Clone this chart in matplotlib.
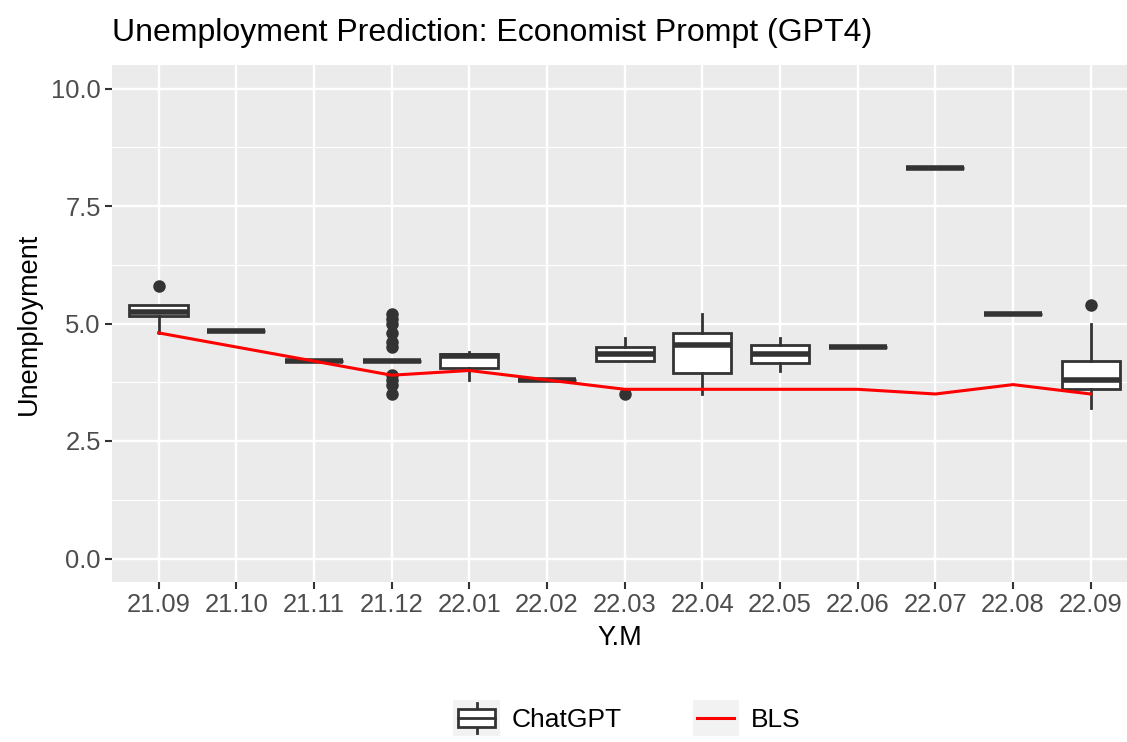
import numpy as np
import matplotlib
matplotlib.use("Agg")
import matplotlib.pyplot as plt
from matplotlib.legend_handler import HandlerBase
from matplotlib.patches import Rectangle
from matplotlib.lines import Line2D

plt.rcParams['font.family'] = ['Liberation Sans', 'DejaVu Sans']

# --------------------------
# data
# --------------------------
months = ['21.09', '21.10', '21.11', '21.12', '22.01', '22.02', '22.03',
          '22.04', '22.05', '22.06', '22.07', '22.08', '22.09']
q1 = [5.15, 4.85, 4.2, 4.2, 4.05, 3.8, 4.2, 3.95, 4.17, 4.5, 8.3, 5.2, 3.6]
med = [5.25, 4.85, 4.2, 4.2, 4.3, 3.8, 4.35, 4.55, 4.35, 4.5, 8.3, 5.2, 3.8]
q3 = [5.4, 4.85, 4.2, 4.2, 4.35, 3.8, 4.5, 4.8, 4.55, 4.5, 8.3, 5.2, 4.2]
whis_lo = [4.8, 4.85, 4.2, 4.2, 3.8, 3.8, 4.2, 3.5, 4.0, 4.5, 8.3, 5.2, 3.2]
whis_hi = [5.4, 4.85, 4.2, 4.2, 4.4, 3.8, 4.7, 5.2, 4.7, 4.5, 8.3, 5.2, 5.0]
outliers = [[5.8], [], [], [3.5, 3.7, 3.8, 3.9, 4.5, 4.6, 4.8, 5.0, 5.1, 5.2],
            [], [], [3.5], [], [], [], [], [], [5.4]]
bls = [4.8, 4.5, 4.2, 3.9, 4.0, 3.8, 3.6, 3.6, 3.6, 3.6, 3.5, 3.7, 3.5]

yticks = [0.0, 2.5, 5.0, 7.5, 10.0]

DARK = '#333333'
W, H = 1127, 742

fig = plt.figure(figsize=(W / 100, H / 100), dpi=100)
ax = fig.add_axes([112 / W, (H - 582) / H, (W - 112) / W, 517 / H])
ax.set_facecolor('#EBEBEB')
for s in ax.spines.values():
    s.set_visible(False)

pos = np.arange(1, len(months) + 1)
stats = []
for i in range(len(months)):
    stats.append(dict(med=med[i], q1=q1[i], q3=q3[i], whislo=whis_lo[i],
                      whishi=whis_hi[i], fliers=outliers[i]))

ax.bxp(stats, positions=pos, widths=0.75, showcaps=False, patch_artist=True,
       boxprops=dict(facecolor='white', edgecolor=DARK, linewidth=2.0),
       whiskerprops=dict(color=DARK, linewidth=2.0),
       medianprops=dict(color=DARK, linewidth=4.0, solid_capstyle='butt'),
       flierprops=dict(marker='o', markersize=8, markerfacecolor=DARK,
                       markeredgecolor=DARK),
       zorder=3)

ax.plot(pos, bls, color='red', linewidth=2.2, zorder=4)

ax.set_xlim(0.4, 13 + (W - 1090.7) / 77.7)
ax.set_ylim(-0.5, 10.5)
ax.set_xticks(pos)
ax.set_xticklabels(months)
ax.set_yticks(yticks)
ax.set_yticklabels([f'{v:.1f}' for v in yticks])
ax.set_yticks([1.25, 3.75, 6.25, 8.75], minor=True)
ax.grid(True, which='major', color='white', linewidth=1.7, zorder=0)
ax.grid(True, which='minor', axis='y', color='white', linewidth=0.8, zorder=0)
ax.set_axisbelow(True)
ax.tick_params(axis='both', which='major', length=5, width=1.5, color=DARK,
               labelcolor='#4D4D4D', labelsize=18.4, pad=3)
ax.tick_params(axis='both', which='minor', length=0)

ax.set_xlabel('Y.M', fontsize=19.5, color='black', labelpad=6)
ax.set_ylabel('Unemployment', fontsize=19.5, color='black', labelpad=7)

fig.text(112 / W, 1 - 40.7 / H, 'Unemployment Prediction: Economist Prompt (GPT4)',
         fontsize=23, ha='left', va='baseline')


# legend keys drawn like ggplot's (grey square background)
class BoxKey(HandlerBase):
    def create_artists(self, legend, orig_handle, xdescent, ydescent,
                       width, height, fontsize, trans):
        x0, y0 = -xdescent, -ydescent
        bg = Rectangle((x0, y0), width, height, facecolor='#F2F2F2',
                       edgecolor='none', transform=trans)
        cx = x0 + width / 2
        wl = Line2D([cx, cx], [y0 + 0.1 * height, y0 + 0.9 * height],
                    color=DARK, lw=2.0, transform=trans)
        box = Rectangle((x0 + 0.1 * width, y0 + 0.25 * height), 0.8 * width,
                        0.5 * height, facecolor='white', edgecolor=DARK,
                        lw=2.0, transform=trans)
        md = Line2D([x0 + 0.1 * width, x0 + 0.9 * width],
                    [y0 + 0.5 * height] * 2, color=DARK, lw=2.0,
                    transform=trans)
        return [bg, wl, box, md]


class LineKey(HandlerBase):
    def create_artists(self, legend, orig_handle, xdescent, ydescent,
                       width, height, fontsize, trans):
        x0, y0 = -xdescent, -ydescent
        bg = Rectangle((x0, y0), width, height, facecolor='#F2F2F2',
                       edgecolor='none', transform=trans)
        ln = Line2D([x0 + 0.1 * width, x0 + 0.9 * width],
                    [y0 + 0.5 * height] * 2, color='red', lw=2.2,
                    transform=trans)
        return [bg, ln]


h_box = Rectangle((0, 0), 1, 1)
h_line = Line2D([], [])
fig.legend([h_box, h_line], ['ChatGPT', 'BLS'],
           handler_map={h_box: BoxKey(), h_line: LineKey()},
           loc='center', bbox_to_anchor=(627 / W, 1 - 718 / H), ncol=2,
           frameon=False, fontsize=19, handlelength=1.75, handleheight=1.75,
           handletextpad=0.45, columnspacing=2.7, borderpad=0)

fig.savefig('out.png', dpi=100)
